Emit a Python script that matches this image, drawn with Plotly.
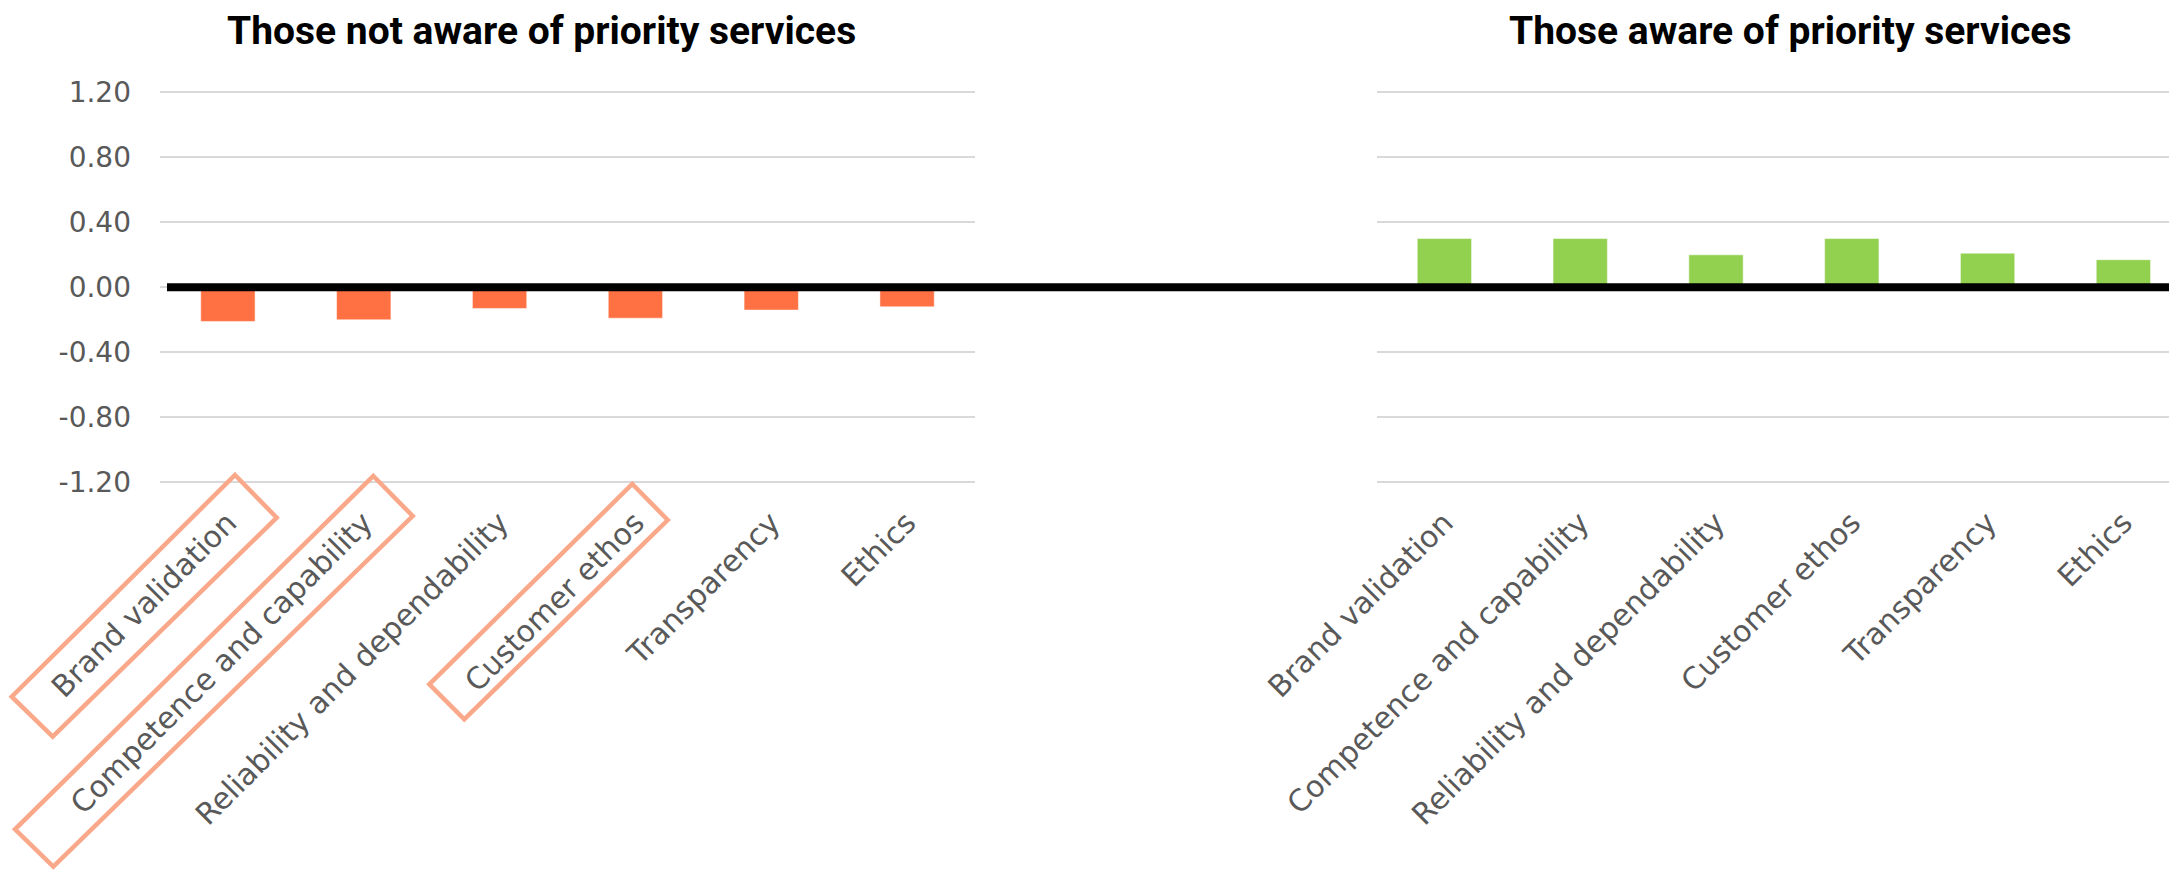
import plotly.graph_objects as go

PAGE_W, PAGE_H = 2177, 870
OFF = 8  # default body margin of the html page
W, H = PAGE_W - OFF, PAGE_H - OFF

categories = ["Brand validation", "Competence and capability", "Reliability and dependability",
              "Customer ethos", "Transparency", "Ethics"]
not_aware = [-0.21, -0.20, -0.13, -0.19, -0.14, -0.12]
aware = [0.30, 0.30, 0.20, 0.30, 0.21, 0.17]
y_ticks = [1.2, 0.8, 0.4, 0.0, -0.4, -0.8, -1.2]
y_tick_text = [f"{v:.2f}" for v in y_ticks]
title_left = "Those not aware of priority services"
title_right = "Those aware of priority services"

LABEL_FONT = "DejaVu Sans"
TXT = "#595959"
GRID = "#d9d9d9"


def px(x):
    return (x - OFF) / W


def py(y):
    return 1 - (y - OFF) / H


# y geometry (page pixels): zero at 287.3, 162.5 px per unit
Y0, PPU, YR = 287.3, 162.5, 1.23
ydom = [py(Y0 + YR * PPU), py(Y0 - YR * PPU)]
x_standoff = int(round(16 - (YR - 1.2) * PPU))

fig = go.Figure()
fig.add_trace(go.Bar(x=categories, y=not_aware, xaxis="x", yaxis="y",
                     marker=dict(color="#FF7043", line=dict(color="rgba(255,255,255,0.5)", width=1)),
                     showlegend=False))
fig.add_trace(go.Bar(x=categories, y=aware, xaxis="x2", yaxis="y2",
                     marker=dict(color="#92D050", line=dict(color="rgba(255,255,255,0.5)", width=1)),
                     showlegend=False))

xcommon = dict(type="category", showgrid=False, zeroline=False, showline=False, ticks="",
               tickangle=-45, tickfont=dict(family=LABEL_FONT, size=30, color=TXT),
               ticklabelstandoff=x_standoff, automargin=False, fixedrange=True)
ycommon = dict(range=[-YR, YR], tickvals=y_ticks, ticktext=y_tick_text, showgrid=True,
               gridcolor=GRID, gridwidth=2, zeroline=False, showline=False, ticks="",
               automargin=False, domain=ydom, fixedrange=True)

fig.update_layout(
    width=W, height=H, autosize=False,
    margin=dict(l=0, r=0, t=0, b=0),
    paper_bgcolor="white", plot_bgcolor="white",
    bargap=0.6,
    xaxis=dict(domain=[px(160), px(975)], range=[-0.5, 5.5], anchor="y", **xcommon),
    xaxis2=dict(domain=[px(1376.5), 1.0], range=[-0.5, -0.5 + (PAGE_W - 1376.5) / 135.8],
                anchor="y2", **xcommon),
    yaxis=dict(anchor="x", showticklabels=True, ticklabelstandoff=28,
               tickfont=dict(family=LABEL_FONT, size=28, color=TXT), **ycommon),
    yaxis2=dict(anchor="x2", showticklabels=False, **ycommon),
)

# thick black zero axis line spanning both panels
fig.add_shape(type="line", xref="paper", yref="y", x0=px(167), x1=1.0, y0=0, y1=0,
              line=dict(color="black", width=8), layer="above")

# titles
for t, cx in [(title_left, 541), (title_right, 1790)]:
    fig.add_annotation(text="<b>" + t + "</b>", xref="paper", yref="paper",
                       x=px(cx), y=py(31), xanchor="center", yanchor="middle", showarrow=False,
                       font=dict(family="Roboto", size=39, color="black"))

# highlight boxes around selected category labels (page-pixel corners: top, right, bottom, left)
boxes = [
    [(235, 475), (276.7, 517.7), (52.7, 736.7), (11.7, 696.7)],
    [(373.3, 476), (412.7, 516), (53.3, 866.7), (15, 829.3)],
    [(632.3, 484), (667.7, 520), (464.3, 719.3), (429.3, 684.3)],
]
for b in boxes:
    path = "M " + " L ".join(f"{px(x):.5f},{py(y):.5f}" for x, y in b) + " Z"
    fig.add_shape(type="path", xref="paper", yref="paper", path=path,
                  line=dict(color="#F9A88A", width=4.5), fillcolor="rgba(0,0,0,0)")

fig.write_html("out.html")
